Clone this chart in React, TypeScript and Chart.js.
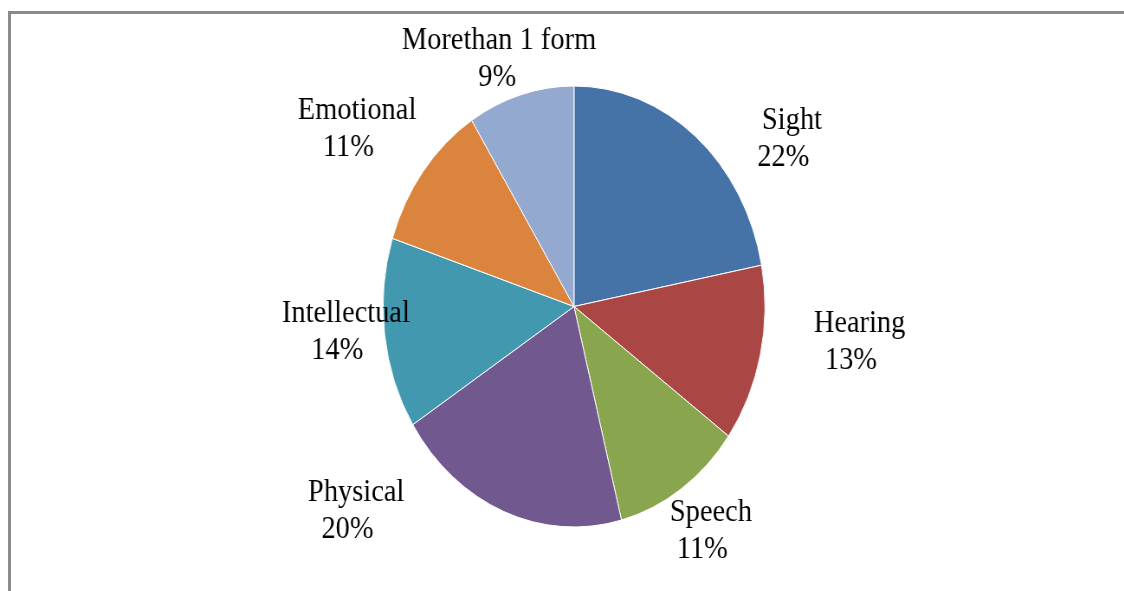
import React, { useEffect, useRef } from "react";
import { Chart, registerables } from "chart.js";

Chart.register(...registerables);

const categories = ["Sight", "Hearing", "Speech", "Physical", "Intellectual", "Emotional", "Morethan 1 form"];
const values = [22, 13, 11, 20, 14, 11, 9];
const percentLabels = ["22%", "13%", "11%", "20%", "14%", "11%", "9%"];
const colors = ["#4572A7", "#AA4643", "#89A54E", "#71588F", "#4198AF", "#DB843D", "#93A9CF"];
// label placement nudges (pre-scale px) relative to an anchor at 1.3 * radius along slice mid-angle
const labelNudge: [number, number][] = [
  [69, 51.4],
  [50, -29],
  [-3, -13.6],
  [-146, -63.1],
  [21, -12.4],
  [-24, -3.8],
  [-6.6, 25.8],
];

const SX = 0.866;
const W = Math.round(1124 / SX);
const H = 591;
const TEXT_STRETCH = 1.06;

const labelPlugin = {
  id: "outsideLabels",
  afterDatasetsDraw(chart: any) {
    const ctx = chart.ctx;
    const meta = chart.getDatasetMeta(0);
    const draw = (t: string, x: number, y: number) => {
      ctx.save();
      ctx.translate(x, y);
      ctx.scale(TEXT_STRETCH, 1);
      ctx.fillText(t, 0, 0);
      ctx.restore();
    };
    ctx.save();
    ctx.fillStyle = "#000000";
    ctx.font = "31px 'Liberation Serif', 'Times New Roman', serif";
    ctx.textAlign = "center";
    ctx.textBaseline = "alphabetic";
    meta.data.forEach((arc: any, i: number) => {
      const p = arc.getProps(["x", "y", "startAngle", "endAngle", "outerRadius"], true);
      const mid = (p.startAngle + p.endAngle) / 2;
      const d = p.outerRadius * 1.3;
      const cx = p.x + Math.cos(mid) * d + labelNudge[i][0];
      const cy = p.y + Math.sin(mid) * d + labelNudge[i][1];
      draw(categories[i], cx, cy - 8.5);
      draw(percentLabels[i], cx - (i === 6 ? 2 : 10), cy + 28.5);
    });
    ctx.restore();
  },
};

export default function App() {
  const ref = useRef<HTMLCanvasElement | null>(null);
  useEffect(() => {
    document.body.style.margin = "0";
    document.documentElement.style.overflow = "hidden";
    if (!ref.current) return;
    const cx = 574 / SX;
    const r = 220.5;
    const chart = new Chart(ref.current, {
      type: "pie",
      data: {
        labels: categories,
        datasets: [
          {
            data: values,
            backgroundColor: colors,
            borderColor: "#ffffff",
            borderWidth: 1,
          },
        ],
      },
      options: {
        responsive: false,
        animation: false,
        radius: r,
        layout: {
          padding: { left: cx - r, right: W - (cx + r), top: 86, bottom: H - 527 },
        },
        plugins: {
          legend: { display: false },
          tooltip: { enabled: false },
        },
      } as any,
      plugins: [labelPlugin],
    });
    return () => chart.destroy();
  }, []);

  return (
    <div style={{ position: "absolute", left: 0, top: 0, width: 1124, height: 591, overflow: "hidden", background: "#fff" }}>
      <div
        style={{
          position: "absolute",
          left: 0,
          top: 0,
          width: W,
          height: H,
          transform: `scaleX(${SX})`,
          transformOrigin: "0 0",
        }}
      >
        <canvas ref={ref} width={W} height={H} />
      </div>
      <div
        style={{
          position: "absolute",
          left: 8,
          top: 11,
          width: 1124,
          height: 600,
          borderTop: "3px solid #8a8a8a",
          borderLeft: "3px solid #8a8a8a",
          pointerEvents: "none",
        }}
      />
    </div>
  );
}
